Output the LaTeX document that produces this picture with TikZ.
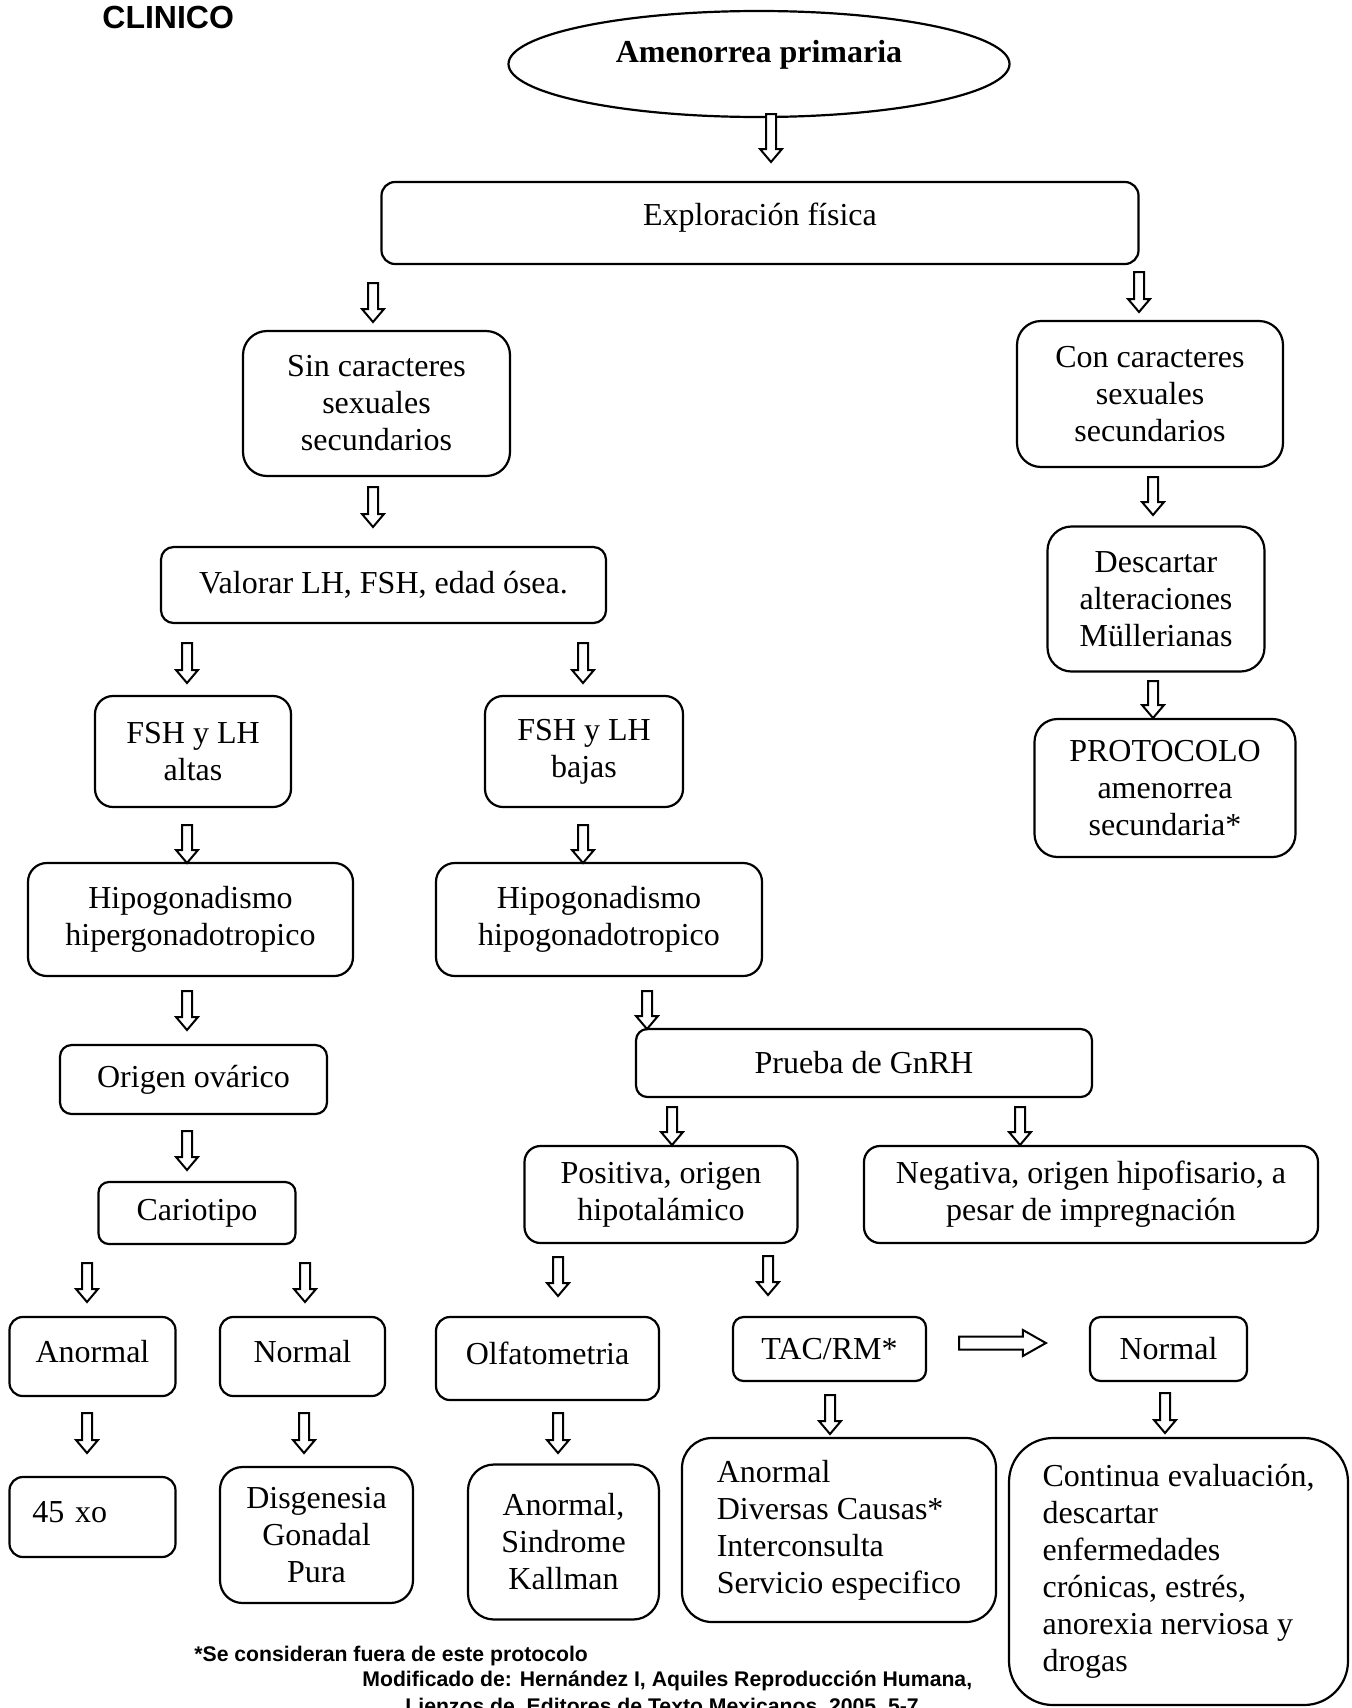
\documentclass[tikz,border=0pt]{standalone}
\usepackage{fontspec}
\setmainfont{Liberation Serif}
\newfontfamily\notafont{Liberation Sans}
\usetikzlibrary{shapes.geometric, calc}

\begin{document}
\begin{tikzpicture}[x=0.5pt, y=-0.5pt, font=\fontsize{16pt}{18.5pt}\selectfont]
    \tikzstyle{caja} = [rectangle, draw, line width=1.1pt, align=center, inner sep=2pt]
    \tikzstyle{elipse} = [ellipse, draw, line width=1.1pt, inner sep=0pt,
      font=\fontsize{16pt}{18.5pt}\selectfont\bfseries]
    \tikzstyle{nota} = [inner sep=0pt, font=\notafont\bfseries\fontsize{10.6pt}{12.5pt}\selectfont]
    \tikzstyle{flechab} = [draw, line width=1pt, fill=white, line join=miter, to path={
      ($(\tikztostart)+(-2.5pt,0)$) -- ($(\tikztotarget)+(-2.5pt,6.5pt)$)
      -- ($(\tikztotarget)+(-5.5pt,6.5pt)$) -- (\tikztotarget)
      -- ($(\tikztotarget)+(5.5pt,6.5pt)$) -- ($(\tikztotarget)+(2.5pt,6.5pt)$)
      -- ($(\tikztostart)+(2.5pt,0)$) -- cycle}]
    \tikzstyle{flechad} = [draw, line width=1pt, fill=white, line join=miter, to path={
      ($(\tikztostart)+(0,3.25pt)$) -- ($(\tikztotarget)+(-11.5pt,3.25pt)$)
      -- ($(\tikztotarget)+(-11.5pt,6.5pt)$) -- (\tikztotarget)
      -- ($(\tikztotarget)+(-11.5pt,-6.5pt)$) -- ($(\tikztotarget)+(-11.5pt,-3.25pt)$)
      -- ($(\tikztostart)+(0,-3.25pt)$) -- cycle}]
    \tikzstyle{alto} = [text height=11pt, text depth=5.5pt]

    \fill[white] (0,0) rectangle (1351,1708);
    \useasboundingbox (0,0) rectangle (1351,1708);

    \node (clinico) [anchor=base west, inner sep=0pt,
      font=\notafont\bfseries\fontsize{16pt}{19pt}\selectfont] at (102,28) {CLINICO};

    % rama principal
    \node (amen) [elipse, minimum width=250.5pt, minimum height=53pt, text depth=13pt] at (759,64) {Amenorrea primaria};
    \node (explo) [caja, rounded corners=6.8pt, minimum width=378.5pt, minimum height=41pt,
      text height=11pt, text depth=9pt] at (760,223) {Exploración física};
    \node (sin) [caja, rounded corners=12pt, minimum width=133.5pt, minimum height=72.5pt] at (376.5,403.5) {Sin caracteres\\sexuales\\secundarios};
    \node (con) [caja, rounded corners=12pt, minimum width=133pt, minimum height=73pt] at (1150,394) {Con caracteres\\sexuales\\secundarios};
    \node (descartar) [caja, rounded corners=12pt, minimum width=108.5pt, minimum height=72.5pt] at (1156,599) {Descartar\\alteraciones\\Müllerianas};
    \node (protocolo) [caja, rounded corners=11.5pt, minimum width=130.5pt, minimum height=69pt] at (1165,788) {PROTOCOLO\\amenorrea\\secundaria*};
    \node (valorar) [caja, rounded corners=6.3pt, minimum width=222.5pt, minimum height=38pt] at (383.5,585) {Valorar LH, FSH, edad ósea.};

    % gonadotropinas
    \node (altas) [caja, rounded corners=9pt, minimum width=98pt, minimum height=55.5pt] at (193,751.5) {FSH y LH\\altas};
    \node (bajas) [caja, rounded corners=9pt, minimum width=99pt, minimum height=55.5pt] at (584,751.5) {FSH y LH\\bajas};
    \node (hiper) [caja, rounded corners=9.4pt, minimum width=162.5pt, minimum height=56.5pt] at (190.5,919.5) {Hipogonadismo\\hipergonadotropico};
    \node (hipo) [caja, rounded corners=9.4pt, minimum width=163pt, minimum height=56.5pt] at (599,919.5) {Hipogonadismo\\hipogonadotropico};
    \node (ovarico) [caja, rounded corners=5.8pt, minimum width=133.5pt, minimum height=34.5pt] at (193.5,1079.5) {Origen ovárico};
    \node (gnrh) [caja, rounded corners=5.7pt, minimum width=228pt, minimum height=34pt] at (864,1063) {Prueba de GnRH};
    \node (cariotipo) [caja, rounded corners=5.2pt, minimum width=98.5pt, minimum height=31pt] at (197,1213) {Cariotipo};
    \node (positiva) [caja, rounded corners=8pt, minimum width=136.5pt, minimum height=48.5pt] at (661,1194.5) {Positiva, origen\\hipotalámico};
    \node (negativa) [caja, rounded corners=8pt, minimum width=227pt, minimum height=48.5pt] at (1091,1194.5) {Negativa, origen hipofisario, a\\pesar de impregnación};

    % resultados
    \node (anormal) [caja, alto, rounded corners=6.6pt, minimum width=83pt, minimum height=39.5pt] at (92.5,1356.5) {Anormal};
    \node (normal) [caja, alto, rounded corners=6.6pt, minimum width=82.5pt, minimum height=39.5pt] at (302.5,1356.5) {Normal};
    \node (olfato) [caja, alto, rounded corners=7pt, minimum width=111.5pt, minimum height=41.5pt] at (547.5,1358.5) {Olfatometria};
    \node (tac) [caja, rounded corners=5.3pt, minimum width=96.5pt, minimum height=32pt] at (829.5,1349) {TAC/RM*};
    \node (normalb) [caja, rounded corners=5.3pt, minimum width=78.5pt, minimum height=32pt] at (1168.5,1349) {Normal};
    \node (xo) [caja, alto, rounded corners=6.7pt, minimum width=83pt, minimum height=40pt, text width=60pt, align=left] at (92.5,1517) {45 xo};
    \node (disgenesia) [caja, rounded corners=11.3pt, minimum width=96.5pt, minimum height=68pt] at (316.5,1535) {Disgenesia\\Gonadal\\Pura};
    \node (kallman) [caja, rounded corners=13pt, minimum width=95.5pt, minimum height=77.5pt] at (563.5,1542) {Anormal,\\Sindrome\\Kallman};
    \node (diversas) [caja, rounded corners=15pt, minimum width=157pt, minimum height=92pt, align=left] at (839,1530) {Anormal\\Diversas Causas*\\Interconsulta\\Servicio especifico};
    \node (continua) [caja, rounded corners=22pt, minimum width=169.5pt, minimum height=133.5pt, align=left] at (1178.5,1571.5) {Continua evaluación,\\descartar\\enfermedades\\crónicas, estrés,\\anorexia nerviosa y\\drogas};

    % flechas huecas
    \foreach \x/\ya/\yb [count=\i] in {771/114/162, 373/283/322, 1139/272/312, 373/487/527,
        1153/477/515, 1153/681/718, 187/643/683, 583/643/683, 187/825/863, 583/825/863,
        187/991/1030, 647/991/1029, 187/1131/1170, 672/1107/1145, 1020/1107/1145,
        87/1263/1302, 305/1263/1302, 558/1257/1296, 768/1256/1295,
        87/1413/1453, 304/1413/1453, 558/1413/1453, 830/1395/1434, 1165/1393/1433} {
      \coordinate (t\i) at (\x,\ya);
      \coordinate (p\i) at (\x,\yb);
      \draw [flechab] (t\i) to (p\i);
    }
    \draw [flechad] ([xshift=16pt, yshift=3pt]tac.east) to ([xshift=-21.5pt, yshift=3pt]normalb.west);

    % notas
    \node (nota1) [nota, anchor=base west] at (194,1661) {*Se consideran fuera de este protocolo};
    \node (nota2) [nota, anchor=base west] at (362,1686) {Modificado de: Hernández I, Aquiles Reproducción Humana,};
    \node (nota3) [nota, anchor=base west] at (405,1713) {Lienzos de,  Editores de Texto Mexicanos,  2005,  5-7};
\end{tikzpicture}
\end{document}
